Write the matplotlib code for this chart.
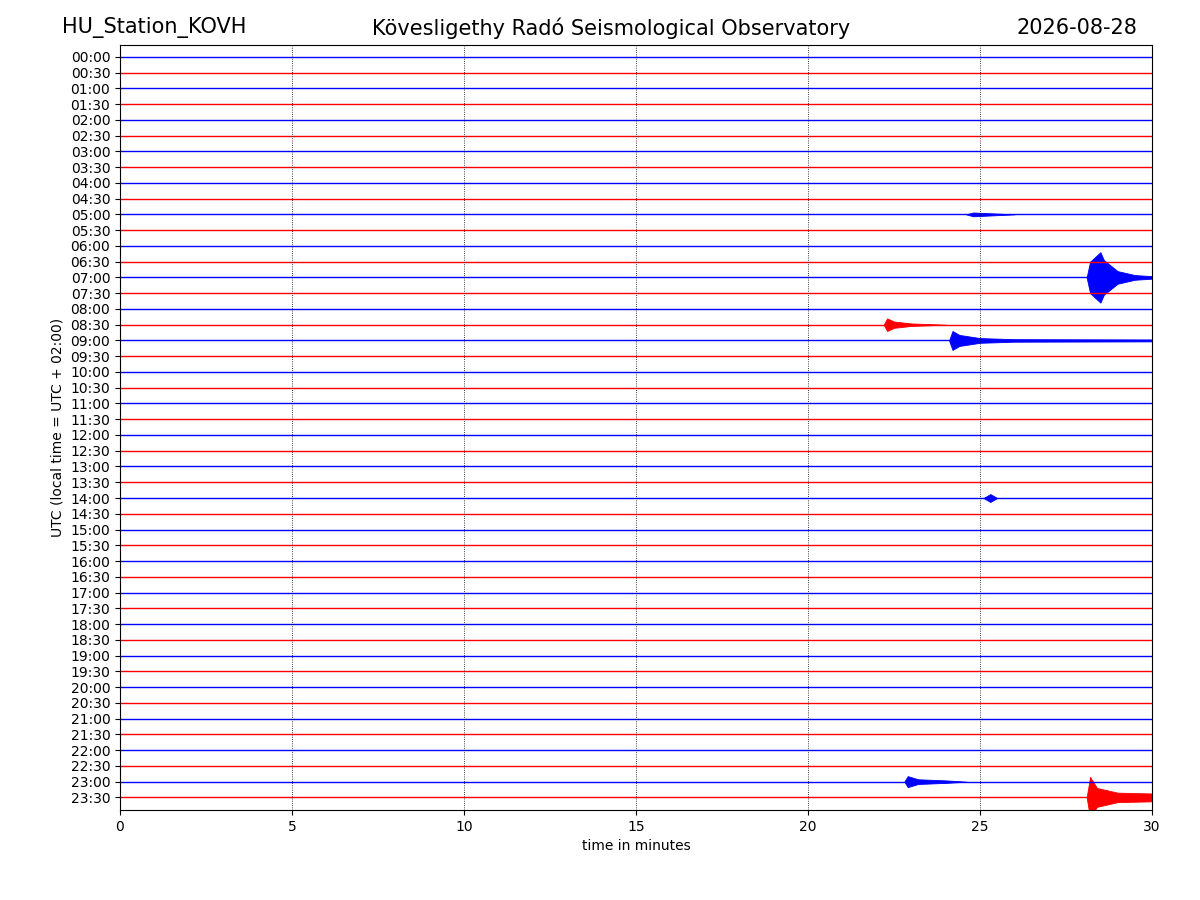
import matplotlib
matplotlib.use("Agg")
import matplotlib.pyplot as plt

station = "HU_Station_KOVH"
observatory = "Kövesligethy Radó Seismological Observatory"
date = "2026-08-28"
row_labels = [f"{h:02d}:{m:02d}" for h in range(24) for m in (0, 30)]
minutes = [0, 30]

# events: (row index, envelope times, envelope half-amplitudes in row units)
events = [
    (10, [24.6, 24.8, 25.2, 26.0], [0.0, 0.12, 0.08, 0.0]),
    (14, [28.1, 28.2, 28.5, 28.6, 29.0, 29.5, 30.0], [0.0, 1.0, 1.6, 1.1, 0.4, 0.15, 0.08]),
    (17, [22.2, 22.3, 22.5, 23.0, 24.0], [0.0, 0.4, 0.2, 0.08, 0.0]),
    (18, [24.1, 24.2, 24.4, 25.0, 26.0, 30.0], [0.0, 0.6, 0.35, 0.15, 0.08, 0.06]),
    (28, [25.1, 25.3, 25.5], [0.0, 0.25, 0.0]),
    (46, [22.8, 22.9, 23.2, 24.0, 24.6], [0.0, 0.35, 0.15, 0.08, 0.0]),
    (47, [28.1, 28.2, 28.4, 29.0, 30.0], [0.0, 1.3, 0.6, 0.3, 0.25]),
]

fig = plt.figure(figsize=(12, 9), dpi=100)
ax = fig.add_axes([0.1, 0.1, 0.86, 0.85])
colors = ["blue", "red"]
for i in range(len(row_labels)):
    ax.plot(minutes, [i, i], color=colors[i % 2], lw=1.0)
for row, t, a in events:
    c = colors[row % 2]
    ax.fill_between(t, [row - v for v in a], [row + v for v in a], color=c, lw=0.6)
for x in [5, 10, 15, 20, 25]:
    ax.axvline(x, color="black", ls=":", lw=0.6)
ax.set_xlim(0, 30)
ax.set_ylim(47.8, -0.75)
ax.set_yticks(range(len(row_labels)))
ax.set_yticklabels(row_labels)
ax.set_xlabel("time in minutes")
ax.set_ylabel("UTC (local time = UTC + 02:00)")
fig.text(0.052, 0.969, station, fontsize=15, ha="left", va="center")
fig.text(0.509, 0.969, observatory, fontsize=15, ha="center", va="center")
fig.text(0.948, 0.969, date, fontsize=15, ha="right", va="center")
fig.savefig("out.png")
